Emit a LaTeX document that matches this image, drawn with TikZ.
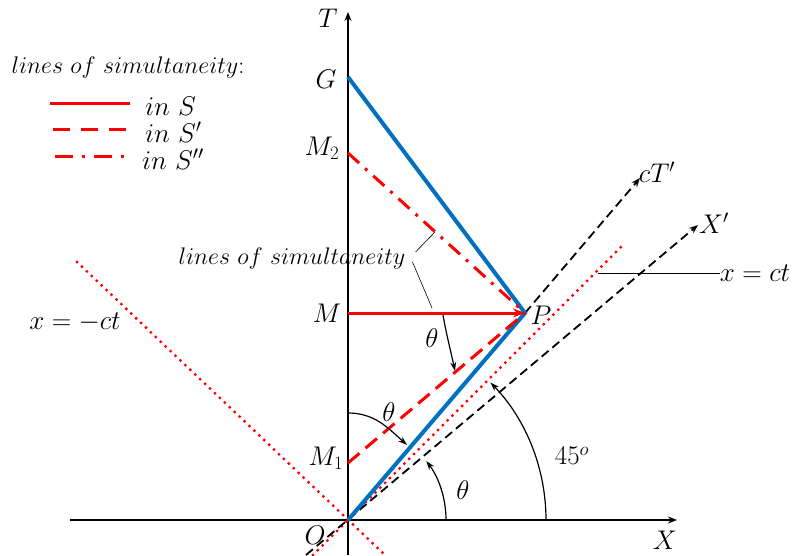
\RequirePackage{fix-cm}
\documentclass[tikz,border=0pt]{standalone}
\usetikzlibrary{arrows.meta,calc}
\definecolor{wblue}{RGB}{0,112,192}
\definecolor{wred}{RGB}{255,0,0}
\begin{document}
\begin{tikzpicture}[x=1pt,y=1pt,
  lbl/.style={inner sep=0pt, font=\fontsize{27}{32}\selectfont},
  lbls/.style={inner sep=0pt, font=\fontsize{24}{28}\selectfont},
  tip/.style={-{Stealth[length=9pt,width=7pt]}},
  axisline/.style={line width=1.6pt, tip},
  blueline/.style={wblue, line width=4pt},
  simS/.style={wred, line width=3pt},
  simSp/.style={wred, line width=3pt, dash pattern=on 15pt off 8pt},
  simSpp/.style={wred, line width=3pt, dash pattern=on 15pt off 8pt on 3pt off 8pt},
  lightline/.style={wred, line width=3.3pt, line cap=round, dash pattern=on 0pt off 6.8pt},
  primeaxis/.style={line width=1.8pt, dash pattern=on 9pt off 5pt, tip},
  anglearc/.style={line width=1.2pt, -{Stealth[length=9pt,width=6pt]}},
  leader/.style={line width=0.6pt},
]
\useasboundingbox (0,0) rectangle (794,555);
% coordinates
\coordinate (O) at (348,35);
\coordinate (Tb) at (348,0);
\coordinate (Tt) at (348,543);
\coordinate (Xl) at (70,35);
\coordinate (Xr) at (677,35);
\coordinate (P) at (525,242);
\coordinate (M) at (348,242);
\coordinate (G) at (348,478);
\coordinate (M2) at (348,402);
\coordinate (M1) at (348,92);
\coordinate (cTend) at (640,377);
\coordinate (Xpb) at (306,0);
\coordinate (Xpe) at (698,330);
\coordinate (lc1) at (313,0);
\coordinate (lc2) at (625,312);
\coordinate (ld1) at (77,293);
\coordinate (ld2) at (385,0);
% axes
\draw[axisline] (Tb) -- (Tt);
\draw[axisline] (Xl) -- (Xr);
% light lines
\draw[lightline] (lc1) -- (lc2);
\draw[lightline] (ld1) -- (ld2);
% primed axes
\draw[primeaxis] (Xpb) -- (Xpe);
\draw[primeaxis] (P) -- (cTend);
% blue world lines
\draw[blueline] (O) -- (P) -- (G);
% simultaneity lines
\draw[simSpp] (M2) -- (P);
\draw[simSp] (M1) -- (P);
\draw[simS, -{Stealth[length=12pt,width=9pt]}] (M) -- (P);
% angle arcs
\draw[anglearc] ($(O)+(98,0)$) arc[start angle=0, end angle=37, radius=98];
\draw[anglearc] ($(O)+(198,0)$) arc[start angle=0, end angle=44, radius=198];
\coordinate (a1s) at (348,142);
\coordinate (a1e) at (407,110);
\draw[anglearc] (a1s) to[out=0, in=138] (a1e);
\coordinate (a2s) at (443,240);
\coordinate (a2e) at (455,184);
\draw[anglearc] (a2s) to[out=-80, in=102] (a2e);
% labels
\node[lbl] (lT) at (328,537) {$T$};
\node[lbl] (lG) at (326,476) {$G$};
\node[lbl] (lM2) at (322,407) {$M_2$};
\node[lbl] (lM) at (327,242) {$M$};
\node[lbl] (lM1) at (326,97) {$M_1$};
\node[lbl] (lO) at (315,20) {$O$};
\node[lbl] (lX) at (665,15) {$X$};
\node[lbl] (lP) at (541,240) {$P$};
\node[lbl] (lcT) at (657,383) {$cT'$};
\node[lbl] (lXp) at (714,332) {$X'$};
\node[lbl] (lxct) at (755,282) {$x=ct$};
\node[lbl] (lxmct) at (75,233) {$x=-ct$};
\node[lbl] (th1) at (432,217) {$\theta$};
\node[lbl] (th2) at (389,143) {$\theta$};
\node[lbl] (th3) at (463,65) {$\theta$};
\node[lbl] (l45) at (572,99) {$45^o$};
\node[lbls] (lsim) at (292,297) {$lines\ of\ simultaneity$};
% leaders
\coordinate (xctl) at (598,282);
\draw[leader] (xctl) -- (lxct.west);
\coordinate (ls1) at (435,323);
\coordinate (ls2) at (432,247);
\draw[leader] ($(lsim.east)+(10,6)$) -- (ls1);
\draw[leader] ($(lsim.east)+(7,-4)$) -- (ls2);
% legend
\node[lbls] (legt) at (128,487) {$lines\ of\ simultaneity$:};
\coordinate (l1a) at (50,451); \coordinate (l1b) at (130,451);
\coordinate (l2a) at (53,425); \coordinate (l2b) at (127,425);
\coordinate (l3a) at (55,398); \coordinate (l3b) at (130,398);
\draw[simS] (l1a) -- (l1b);
\draw[wred, line width=3pt, dash pattern=on 17pt off 11pt] (l2a) -- (l2b);
\draw[wred, line width=3pt, dash pattern=on 18pt off 9pt on 3pt off 9pt] (l3a) -- (l3b);
\node[lbl, anchor=west] (leg1) at (145,449) {$in\ S$};
\node[lbl, anchor=west] (leg2) at (145,423) {$in\ S'$};
\node[lbl, anchor=west] (leg3) at (142,396) {$in\ S''$};
\end{tikzpicture}
\end{document}
